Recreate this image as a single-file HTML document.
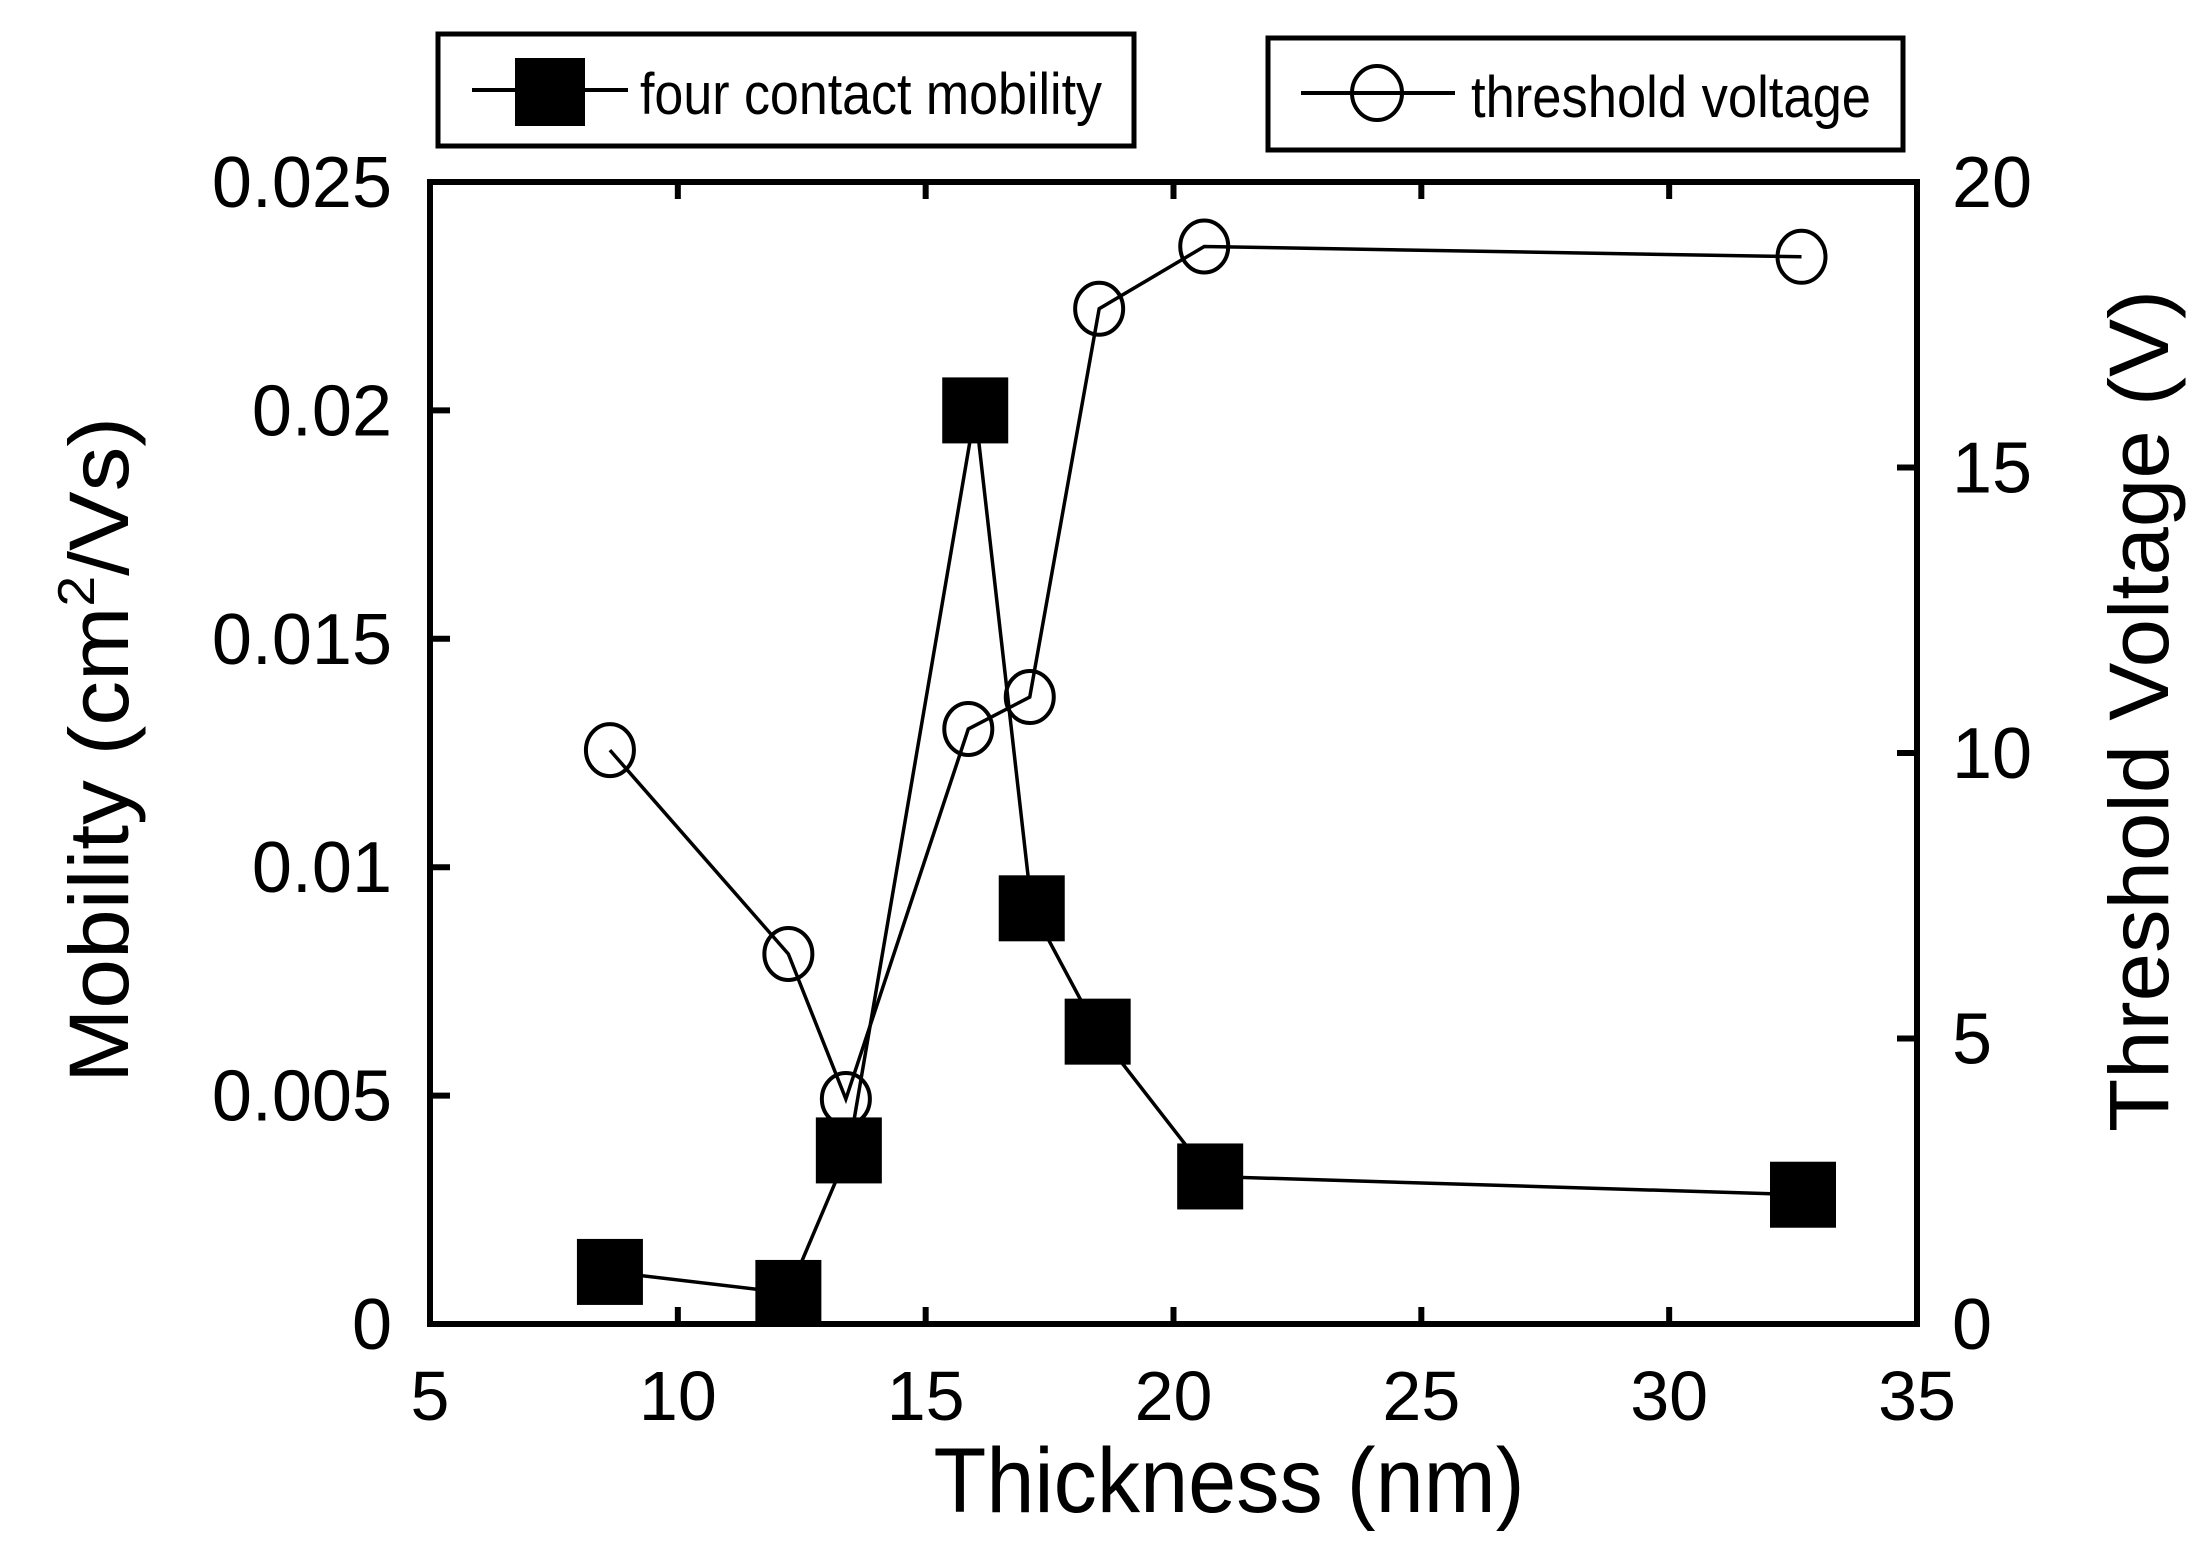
<!DOCTYPE html>
<html><head><meta charset="utf-8"><style>
html,body{margin:0;padding:0;background:#fff;}
svg{display:block;font-family:"Liberation Sans",Arial,sans-serif;}
</style></head><body>
<svg id="chart" width="2208" height="1555" viewBox="0 0 2208 1555" xmlns="http://www.w3.org/2000/svg">
<g id="legend">
 <rect x="438" y="34" width="696" height="112" fill="none" stroke="#000" stroke-width="5"/>
 <line x1="472" y1="90" x2="628" y2="90" stroke="#000" stroke-width="4"/>
 <rect x="515" y="58" width="70" height="68" fill="#000"/>
 <text x="640" y="114" font-size="58" textLength="462" lengthAdjust="spacingAndGlyphs">four contact mobility</text>
 <rect x="1268" y="38" width="635" height="112" fill="none" stroke="#000" stroke-width="5"/>
 <line x1="1301" y1="93" x2="1455" y2="93" stroke="#000" stroke-width="4"/>
 <ellipse cx="1377" cy="93" rx="25" ry="27" fill="none" stroke="#000" stroke-width="4"/>
 <text x="1471" y="117" font-size="58" textLength="400" lengthAdjust="spacingAndGlyphs">threshold voltage</text>
</g>
<g id="axes"></g>
<g id="series"></g>
<text x="1229" y="1512" font-size="92" text-anchor="middle" textLength="591" lengthAdjust="spacingAndGlyphs">Thickness (nm)</text>
<text transform="translate(128,750) rotate(-90)" font-size="84" text-anchor="middle" textLength="666" lengthAdjust="spacingAndGlyphs">Mobility (cm<tspan font-size="52" dy="-34">2</tspan><tspan dy="34">/Vs)</tspan></text>
<text transform="translate(2168,711) rotate(-90)" font-size="84" text-anchor="middle" textLength="842" lengthAdjust="spacingAndGlyphs">Threshold Voltage (V)</text>
</svg>
<script>
const thickness = [8.63, 12.23, 13.45, 16.0, 17.14, 18.47, 20.74, 32.7];
const mobility = [0.00114, 0.00068, 0.0038, 0.0200, 0.0091, 0.0064, 0.00323, 0.00283];
const vthThickness = [8.63, 12.23, 13.39, 15.86, 17.1, 18.5, 20.62, 32.67];
const vth = [10.05, 6.48, 3.94, 10.42, 10.98, 17.78, 18.87, 18.69];
const xTicks = [5, 10, 15, 20, 25, 30, 35];
const yLeftTicks = [0, 0.005, 0.01, 0.015, 0.02, 0.025];
const yLeftLabels = ["0", "0.005", "0.01", "0.015", "0.02", "0.025"];
const yRightTicks = [0, 5, 10, 15, 20];

const L=430,R=1917,T=182,B=1324;
const xs=v=>L+(v-5)/30*(R-L);
const yl=v=>B-v/0.025*(B-T);
const yr=v=>B-v/20*(B-T);
const NS="http://www.w3.org/2000/svg";
function mk(tag,attrs,parent){const e=document.createElementNS(NS,tag);for(const k in attrs)e.setAttribute(k,attrs[k]);parent.appendChild(e);return e;}
const ax=document.getElementById('axes');
let f=mk('rect',{x:L,y:T,width:R-L,height:B-T,fill:'none',stroke:'#000','stroke-width':6},ax);


xTicks.forEach(t=>{
 const x=xs(t);
 let a=mk('line',{x1:x,y1:B,x2:x,y2:B-17,stroke:'#000','stroke-width':6},ax);
 
 
 let b=mk('line',{x1:x,y1:T,x2:x,y2:T+17,stroke:'#000','stroke-width':6},ax);
 
 
 let tx=mk('text',{x:x,y:1420,'font-size':70,'text-anchor':'middle'},ax);tx.textContent=t;
 
 
});
yLeftTicks.forEach((t,i)=>{
 const y=yl(t);
 let a=mk('line',{x1:L,y1:y,x2:L+20,y2:y,stroke:'#000','stroke-width':6},ax);
 
 
 let tx=mk('text',{x:392,y:y+25,'font-size':72,'text-anchor':'end'},ax);tx.textContent=yLeftLabels[i];
 
 
});
yRightTicks.forEach(t=>{
 const y=yr(t);
 let a=mk('line',{x1:R,y1:y,x2:R-20,y2:y,stroke:'#000','stroke-width':6},ax);
 
 
 let tx=mk('text',{x:1952,y:y+25,'font-size':72,'text-anchor':'start'},ax);tx.textContent=t;
 
 
});
const sg=document.getElementById('series');
let p1=mk('polyline',{points:vthThickness.map((t,i)=>xs(t)+','+yr(vth[i])).join(' '),fill:'none',stroke:'#000','stroke-width':3.5},sg);


let p2=mk('polyline',{points:thickness.map((t,i)=>xs(t)+','+yl(mobility[i])).join(' '),fill:'none',stroke:'#000','stroke-width':3.5},sg);


vthThickness.forEach((t,i)=>{
 let c=mk('ellipse',{cx:xs(t),cy:yr(vth[i]),rx:24,ry:26,fill:'none',stroke:'#000','stroke-width':4},sg);
 
 
});
thickness.forEach((t,i)=>{
 let r=mk('rect',{x:xs(t)-33,y:yl(mobility[i])-33,width:66,height:66,fill:'#000'},sg);
 
 
});
</script>
</body></html>
